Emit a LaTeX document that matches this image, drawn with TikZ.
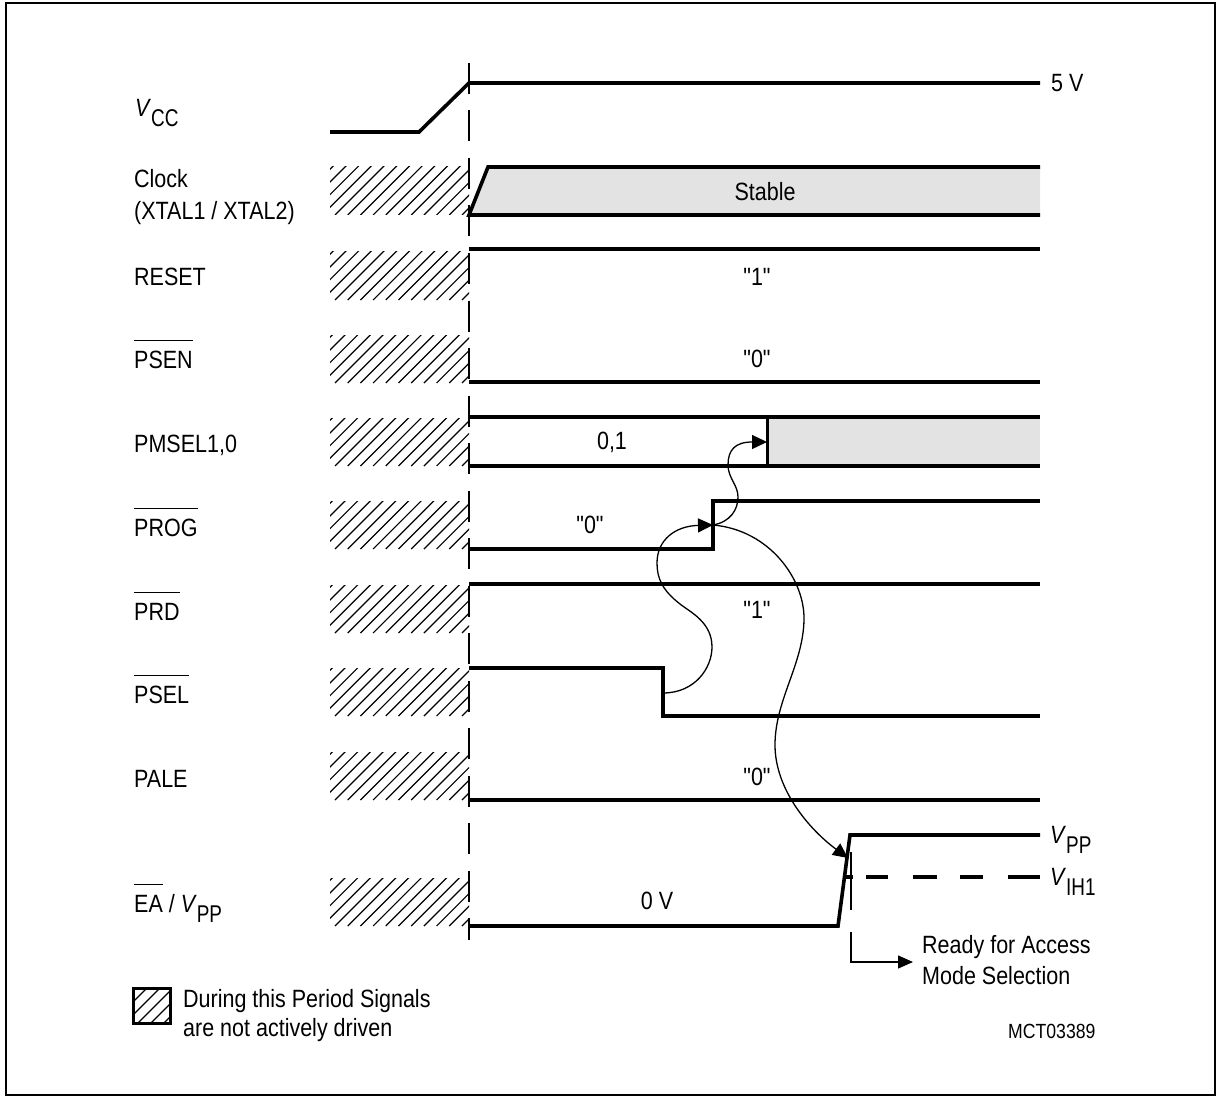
\documentclass[tikz,border=0pt]{standalone}
\usepackage{fontspec}
\setmainfont{Liberation Sans}[FakeStretch=0.86,Ligatures=TeXOff]
\usepackage{graphicx}
\usetikzlibrary{arrows.meta}
\newcommand\ovl[1]{\setbox0=\hbox{#1}\rlap{\rule[27pt]{\wd0}{1.3pt}}\box0\relax}
\newcommand\sbx[1]{\raisebox{-10pt}{\scalebox{0.88}[0.97]{#1}}}
% x1 y1 x2 y2 spacing
\newcommand\hatchrect[5]{%
  \begin{scope}
    \clip (#1,#2) rectangle (#3,#4);
    \foreach \k in {-6,...,14} {\draw[hatchline] ({#1+5+#5*\k},#4) -- ++(60,-60);}
  \end{scope}}
\begin{document}
\begin{tikzpicture}[x=1pt,y=-1pt,
  sig/.style={line width=3.6pt, line cap=butt, line join=miter},
  thinln/.style={line width=1.3pt},
  hatchline/.style={line width=1.2pt},
  lbl/.style={anchor=base west, inner sep=0pt, font=\fontsize{25}{30}\selectfont},
  val/.style={anchor=center, inner sep=0pt, font=\fontsize{25}{30}\selectfont},
  arr/.style={line width=1.3pt, -{Triangle[length=15pt,width=14pt]}},
  stip/.style={fill=black!11}]

\useasboundingbox (0,0) rectangle (1220,1099);
\draw[line width=2.2pt] (6,3) rectangle (1215,1095);

% hatched (undriven) periods
\hatchrect{330}{167}{469}{215}{12.7}
\hatchrect{330}{252}{469}{300}{12.7}
\hatchrect{330}{335}{469}{383}{12.7}
\hatchrect{330}{418}{469}{466}{12.7}
\hatchrect{330}{501}{469}{549}{12.7}
\hatchrect{330}{585}{469}{633}{12.7}
\hatchrect{330}{668}{469}{716}{12.7}
\hatchrect{330}{752}{469}{800}{12.7}
\hatchrect{330}{878}{469}{926}{12.7}

% reference dashed line
\draw[line width=1.5pt, dash pattern=on 31pt off 16.5pt] (469,63) -- (469,940);

% VCC
\draw[sig] (330,132) -- (419,132) -- (469,83) -- (1040,83);
% Clock
\fill[stip] (469,215) -- (488,167) -- (1040,167) -- (1040,215) -- cycle;
\draw[sig] (1040,215) -- (469,215) -- (488,167) -- (1040,167);
% RESET
\draw[sig] (469,249) -- (1040,249);
% PSEN
\draw[sig] (469,382) -- (1040,382);
% PMSEL
\fill[stip] (767,417) rectangle (1040,466);
\draw[sig] (469,417) -- (1040,417);
\draw[sig] (469,466) -- (1040,466);
\draw[line width=3pt] (767,417) -- (767,466);
% PROG
\draw[sig] (469,549) -- (713,549) -- (713,501) -- (1040,501);
% PRD
\draw[sig] (469,584) -- (1040,584);
% PSEL
\draw[sig] (469,668) -- (663,668) -- (663,716) -- (1040,716);
% PALE
\draw[sig] (469,800) -- (1040,800);
% EA / VPP
\draw[sig] (469,926) -- (838,926) -- (850,835) -- (1040,835);
\foreach \a/\b in {845/853, 866/888, 913/937, 960/983, 1008/1040}
  \draw[sig] (\a,877) -- (\b,877);

% signal names
\node[lbl] (vcc) at (135,117) {\textit{V}\sbx{CC}};
\node[lbl] (clk) at (134,188) {Clock};
\node[lbl] (xtal) at (134,220) {(XTAL1 / XTAL2)};
\node[lbl] (rst) at (134,286) {RESET};
\node[lbl] (psen) at (134,368) {\ovl{PSEN}};
\node[lbl] (pmsel) at (134,452) {PMSEL1,0};
\node[lbl] (prog) at (134,536) {\ovl{PROG}};
\node[lbl] (prd) at (134,620) {\ovl{PRD}};
\node[lbl] (psel) at (134,703) {\ovl{PSEL}};
\node[lbl] (pale) at (134,787) {PALE};
\node[lbl] (ea) at (134,912) {\ovl{EA} / \textit{V}\sbx{PP}};

% values
\node[lbl] (fivev) at (1051,92) {5 V};
\node[val] (stable) at (765,192) {Stable};
\node[val] (rstv) at (757,277) {"1"};
\node[val] (psenv) at (757,359) {"0"};
\node[val] (pmselv) at (612,442) {0,1};
\node[val] (progv) at (590,525) {"0"};
\node[val] (prdv) at (757,610) {"1"};
\node[val] (palev) at (757,777) {"0"};
\node[val] (eav) at (657,901) {0 V};
\node[lbl] (vpp) at (1050,843) {\textit{V}\sbx{PP}};
\node[lbl] (vih) at (1050,885) {\textit{V}\sbx{IH1}};

% causality arrows
\coordinate (pselE) at (663,693);
\coordinate (progE) at (713,525);
\coordinate (pmselE) at (767,442);
\coordinate (eaE) at (848,858);
\draw[arr] (pselE) .. controls (695,693) and (712,668) .. (712,647)
  .. controls (712,622) and (690,612) .. (680,604)
  .. controls (662,590) and (657,578) .. (657,563)
  .. controls (657,540) and (675,526) .. (progE);
\draw[arr] (progE) .. controls (730,522) and (738,510) .. (738,497)
  .. controls (738,485) and (728,478) .. (728,465)
  .. controls (728,450) and (735,442) .. (pmselE);
\draw[arr] (progE) .. controls (770,530) and (805,580) .. (804,620)
  .. controls (803,665) and (775,700) .. (775,745)
  .. controls (775,790) and (810,830) .. (eaE);

% ready marker
\coordinate (rdyTop) at (851,852);
\coordinate (rdyEnd) at (913,962);
\draw[thinln] (rdyTop) -- (851,910);
\draw[thinln, -{Triangle[length=15pt,width=13pt]}] (851,932) -- (851,962) -- (rdyEnd);
\node[lbl] (ready1) at (922,953) {Ready for Access};
\node[lbl] (ready2) at (922,984) {Mode Selection};

% legend
\hatchrect{133}{988}{170}{1023}{13}
\draw[line width=3pt] (133,988) rectangle (170,1023);
\node[lbl] (leg1) at (183,1007) {During this Period Signals};
\node[lbl] (leg2) at (183,1036) {are not actively driven};
\node[anchor=base west, inner sep=0pt, font=\fontsize{20.5}{24}\selectfont] (code) at (1008,1038) {MCT03389};
\end{tikzpicture}
\end{document}
